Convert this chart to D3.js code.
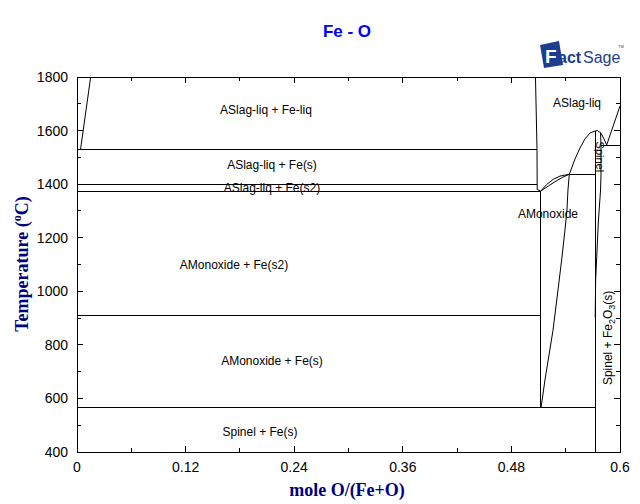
<!DOCTYPE html>
<html><head><meta charset="utf-8">
<script src="https://cdn.jsdelivr.net/npm/d3@7"></script>
<style>body{margin:0;background:#fff}svg{display:block}</style>
</head><body>
<script>
// ---------- data ----------
const xTickValues = [0, 0.12, 0.24, 0.36, 0.48, 0.6];
const yTickValues = [400, 600, 800, 1000, 1200, 1400, 1600, 1800];

// phase boundaries: [mole O/(Fe+O), T °C]
const isoLiquidFe = [[0, 1529], [0.508, 1529]];
const isoDeltaGamma = [[0, 1397], [0.508, 1397]];
const isoMonotectic = [[0, 1374], [0.5124, 1374]];
const isoAlphaGamma = [[0, 911], [0.5124, 911]];
const isoEutectoid = [[0, 565], [0.5724, 565]];
const isoPeritectic = [[0.544, 1436], [0.5724, 1436]];
const isoHematite = [[0.579, 1546], [0.6, 1546]];
const feLiquidus = [[0.0039, 1529], [0.0151, 1800]];
const slagFeLiqBoundary = [[0.5066, 1800], [0.5083, 1530], [0.5085, 1380], [0.5124, 1374]];
const monoxideLeft = [[0.5124, 1374], [0.5124, 565]];
const monoxideRight = [[0.5127, 564], [0.5171, 669], [0.526, 855], [0.5315, 1005], [0.5359, 1128],
  [0.5392, 1229], [0.5414, 1303], [0.5425, 1378], [0.544, 1437]];
const lensUpper = [[0.5124, 1374], [0.519, 1399], [0.5263, 1418], [0.5337, 1430], [0.544, 1437]];
const lensLower = [[0.5124, 1374], [0.5208, 1393], [0.5282, 1409], [0.5356, 1424], [0.544, 1437]];
const spinelLiquidus = [[0.544, 1437], [0.547, 1464], [0.5503, 1494], [0.5558, 1535], [0.5613, 1569],
  [0.5669, 1591], [0.5724, 1598], [0.5751, 1600], [0.579, 1590], [0.5823, 1569], [0.5853, 1546]];
const spinelLeft = [[0.5724, 1598], [0.5724, 400]];
const spinelRight = [[0.5785, 1592], [0.579, 1546], [0.579, 1434], [0.5785, 1378], [0.576, 1255],
  [0.5743, 1129], [0.5731, 1042], [0.5726, 904]];
const hematiteLiquidus = [[0.5853, 1546], [0.6, 1692]];

const boundaries = [isoLiquidFe, isoDeltaGamma, isoMonotectic, isoAlphaGamma, isoEutectoid,
  isoPeritectic, isoHematite, feLiquidus, slagFeLiqBoundary, monoxideLeft, monoxideRight,
  lensUpper, lensLower, spinelLiquidus, spinelLeft, spinelRight, hematiteLiquidus];

const fieldLabels = ["ASlag-liq + Fe-liq", "ASlag-liq", "ASlag-liq + Fe(s)", "ASlag-liq + Fe(s2)",
  "AMonoxide", "AMonoxide + Fe(s2)", "AMonoxide + Fe(s)", "Spinel + Fe(s)"];
const fieldLabelX = [0.2088, 0.5525, 0.2155, 0.2155, 0.5204, 0.1735, 0.2155, 0.2022];
const fieldLabelT = [1677, 1703, 1471, 1386, 1289, 1098, 740, 475];

// ---------- drawing ----------
const W = 640, H = 504;
const m = {left: 77, right: 20, top: 77, bottom: 52};
const svg = d3.select("body").append("svg").attr("width", W).attr("height", H);
const x = d3.scaleLinear().domain([0, 0.6]).range([m.left, W - m.right]);
const y = d3.scaleLinear().domain([400, 1800]).range([H - m.bottom, m.top]);

const font = "'Liberation Sans', Arial, sans-serif";

// title
svg.append("text").attr("x", 347).attr("y", 37).attr("text-anchor", "middle")
  .attr("font-family", font).attr("font-weight", "bold").attr("font-size", 17)
  .attr("fill", "#0000ff").text("Fe - O");

// logo
const logo = svg.append("g");
logo.append("polygon").attr("points", "540,45 559,41 563,65 544,68").attr("fill", "#1f3d8f");
logo.append("text").attr("x", 545).attr("y", 63).attr("font-family", font).attr("font-weight", "bold")
  .attr("font-size", 19).attr("fill", "#fff").text("F");
logo.append("text").attr("x", 558).attr("y", 63).attr("font-family", font).attr("font-weight", "bold")
  .attr("font-size", 16).attr("fill", "#1f3d8f").text("act");
logo.append("text").attr("x", 583).attr("y", 63).attr("font-family", font)
  .attr("font-size", 16).attr("fill", "#1f3d8f").text("Sage");
logo.append("text").attr("x", 618).attr("y", 48).attr("font-family", font)
  .attr("font-size", 4).attr("fill", "#1f3d8f").text("TM");

// axes ticks
const ax = svg.append("g").attr("shape-rendering", "crispEdges").attr("stroke", "#000");
const xMinor = d3.range(0, 0.6001, 0.06);
xMinor.forEach(v => {
  const len = (Math.round(v / 0.06) % 2 === 0) ? 6 : 4;
  ax.append("line").attr("x1", x(v)).attr("x2", x(v)).attr("y1", y(400)).attr("y2", y(400) - len);
  ax.append("line").attr("x1", x(v)).attr("x2", x(v)).attr("y1", y(1800)).attr("y2", y(1800) + len);
});
d3.range(400, 1801, 100).forEach(v => {
  const len = (v % 200 === 0) ? 6 : 4;
  ax.append("line").attr("x1", x(0)).attr("x2", x(0) + len).attr("y1", y(v)).attr("y2", y(v));
  ax.append("line").attr("x1", x(0.6)).attr("x2", x(0.6) - len).attr("y1", y(v)).attr("y2", y(v));
});
svg.append("rect").attr("x", x(0)).attr("y", y(1800)).attr("width", x(0.6) - x(0))
  .attr("height", y(400) - y(1800)).attr("fill", "none").attr("stroke", "#000")
  .attr("shape-rendering", "crispEdges");

// tick labels
svg.append("g").selectAll("text").data(xTickValues).join("text")
  .attr("x", d => x(d)).attr("y", y(400) + 20).attr("text-anchor", "middle")
  .attr("font-family", font).attr("font-size", 14).attr("fill", "#000")
  .text(d => d === 0 ? "0" : d === 0.6 ? "0.6" : d.toFixed(2));
svg.append("g").selectAll("text").data(yTickValues).join("text")
  .attr("x", x(0) - 9).attr("y", d => y(d) + 5).attr("text-anchor", "end")
  .attr("font-family", font).attr("font-size", 14).attr("fill", "#000").text(d => d);

// axis titles
svg.append("text").attr("x", 347).attr("y", 496).attr("text-anchor", "middle")
  .attr("font-family", "'Liberation Serif', 'Times New Roman', serif").attr("font-weight", "bold")
  .attr("font-size", 18).attr("fill", "#000080").text("mole O/(Fe+O)");
const yt = svg.append("text").attr("transform", "translate(28,264) rotate(-90)").attr("text-anchor", "middle")
  .attr("font-family", "'Liberation Serif', 'Times New Roman', serif").attr("font-weight", "bold")
  .attr("font-size", 18).attr("fill", "#000080");
yt.append("tspan").text("Temperature (");
yt.append("tspan").attr("font-size", 12).attr("dy", -7).text("o");
yt.append("tspan").attr("dy", 7).text("C)");

// boundaries
const line = d3.line().x(d => x(d[0])).y(d => y(d[1]));
svg.append("g").selectAll("path").data(boundaries).join("path")
  .attr("d", line).attr("fill", "none").attr("stroke", "#000").attr("stroke-width", 1)
  .attr("shape-rendering", d => (d.length === 2 && (d[0][0] === d[1][0] || d[0][1] === d[1][1])) ? "crispEdges" : "auto");

// field labels
svg.append("g").selectAll("text").data(fieldLabels).join("text")
  .attr("x", (d, i) => x(fieldLabelX[i])).attr("y", (d, i) => y(fieldLabelT[i]) + 4)
  .attr("text-anchor", "middle").attr("font-family", font).attr("font-size", 12).attr("fill", "#000")
  .text(d => d);

svg.append("text").attr("transform", `translate(${x(0.5738)},${y(1502)}) rotate(90)`)
  .attr("text-anchor", "middle").attr("font-family", font).attr("font-size", 11).text("Spinel");

const sl = svg.append("text").attr("transform", `translate(${x(0.5915)},${y(826)}) rotate(-90)`)
  .attr("text-anchor", "middle").attr("font-family", font).attr("font-size", 12);
sl.append("tspan").text("Spinel + Fe");
sl.append("tspan").attr("font-size", 9).attr("dy", 3).text("2");
sl.append("tspan").attr("dy", -3).text("O");
sl.append("tspan").attr("font-size", 9).attr("dy", 3).text("3");
sl.append("tspan").attr("dy", -3).text("(s)");
</script>
</body></html>
